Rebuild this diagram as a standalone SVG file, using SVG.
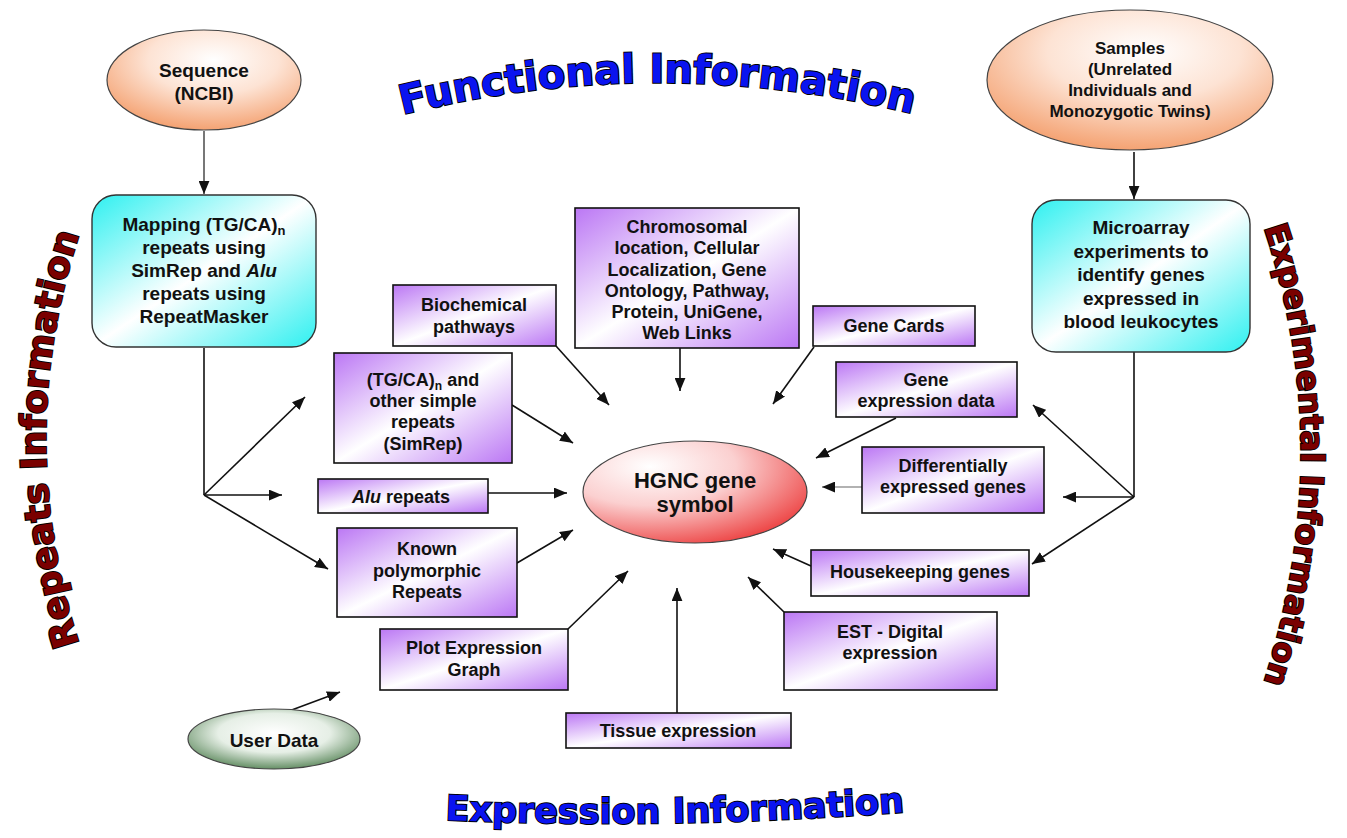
<svg xmlns="http://www.w3.org/2000/svg" width="1347" height="838" viewBox="0 0 1347 838">
<style>
.t{font-family:"Liberation Sans",Arial,sans-serif;font-weight:bold;font-size:18px;fill:#111;text-anchor:middle}
.big{font-size:19px}
.box{fill:url(#purp);stroke:#111;stroke-width:1.6}
.cbox{fill:url(#cyan);stroke:#333;stroke-width:1.4}
.ell{stroke:#444;stroke-width:1.2}
.c{stroke:#111;stroke-width:1.6;fill:none}
.ca{stroke:#111;stroke-width:1.6;fill:none;marker-end:url(#ah)}
.title{font-family:"DejaVu Sans","Liberation Sans",sans-serif;font-weight:bold;stroke:#000;stroke-width:2;paint-order:stroke}
.blue{fill:#0a14f0}
.red{fill:#7a0000}
</style>
<defs>
<linearGradient id="purp" x1="0" y1="0" x2="1" y2="1">
<stop offset="0" stop-color="#bb77f4"/><stop offset="0.5" stop-color="#ffffff"/><stop offset="1" stop-color="#bb77f4"/>
</linearGradient>
<linearGradient id="cyan" x1="0" y1="0" x2="1" y2="1">
<stop offset="0" stop-color="#2ef0f0"/><stop offset="0.5" stop-color="#ffffff"/><stop offset="1" stop-color="#2ef0f0"/>
</linearGradient>
<radialGradient id="orange" cx="0.55" cy="0.3" r="0.75">
<stop offset="0" stop-color="#ffffff"/><stop offset="0.45" stop-color="#fde3d4"/><stop offset="1" stop-color="#f39a66"/>
</radialGradient>
<radialGradient id="red" cx="0.3" cy="0.25" r="0.85">
<stop offset="0" stop-color="#ffffff"/><stop offset="0.45" stop-color="#fbd0d0"/><stop offset="1" stop-color="#ec3c3c"/>
</radialGradient>
<radialGradient id="green" cx="0.5" cy="0.4" r="0.65">
<stop offset="0" stop-color="#ffffff"/><stop offset="0.5" stop-color="#e6efe6"/><stop offset="1" stop-color="#4e7e4e"/>
</radialGradient>
<marker id="ah" viewBox="0 0 12 10" refX="12" refY="5" markerWidth="13" markerHeight="11" markerUnits="userSpaceOnUse" orient="auto">
<path d="M0,0 L12,5 L0,10 z" fill="#111"/>
</marker>
<path id="pFunc" d="M 405 114 Q 655 52 910 113"/>
<path id="pExpr" d="M 445 820 Q 675 830 905 812"/>
<path id="pRep" d="M 82 652 Q 10 440 82 226"/>
<path id="pExp" d="M 1262 222 Q 1340 450 1262 688"/>
</defs>
<rect width="1347" height="838" fill="#ffffff"/>

<g id="titles">
<text class="title blue" font-size="40"><textPath href="#pFunc" startOffset="50%" text-anchor="middle">Functional Information</textPath></text>
<text class="title blue" font-size="35"><textPath href="#pExpr" startOffset="50%" text-anchor="middle">Expression Information</textPath></text>
<text class="title red" font-size="36"><textPath href="#pRep" startOffset="50%" text-anchor="middle">Repeats Information</textPath></text>
<text class="title red" font-size="32"><textPath href="#pExp" startOffset="50%" text-anchor="middle">Experimental Information</textPath></text>
</g>

<g id="connectors">
<line class="ca" x1="204" y1="131" x2="204" y2="194" style="stroke:#555"/>
<line class="ca" x1="1134" y1="152" x2="1134" y2="199"/>
<line class="c" x1="204" y1="348" x2="204" y2="495"/>
<line class="ca" x1="204" y1="495" x2="305" y2="397"/>
<line class="ca" x1="204" y1="495" x2="282" y2="495"/>
<line class="ca" x1="204" y1="495" x2="328" y2="569"/>
<line class="c" x1="1134" y1="352" x2="1134" y2="497"/>
<line class="ca" x1="1134" y1="497" x2="1033" y2="405"/>
<line class="ca" x1="1134" y1="497" x2="1063" y2="497"/>
<line class="ca" x1="1134" y1="497" x2="1032" y2="564"/>
<line class="ca" x1="556" y1="346" x2="609" y2="405"/>
<line class="ca" x1="680" y1="348" x2="680" y2="391"/>
<line class="ca" x1="814" y1="347" x2="773" y2="404"/>
<line class="ca" x1="512" y1="405" x2="573" y2="443"/>
<line class="ca" x1="896" y1="418" x2="816" y2="458"/>
<line class="ca" x1="488" y1="493" x2="567" y2="493"/>
<line class="ca" x1="862" y1="487" x2="822" y2="487" style="stroke:#999"/>
<line class="ca" x1="517" y1="563" x2="573" y2="530"/>
<line class="ca" x1="811" y1="566" x2="773" y2="549"/>
<line class="ca" x1="784" y1="612" x2="748" y2="577"/>
<line class="ca" x1="568" y1="629" x2="628" y2="571"/>
<line class="ca" x1="677" y1="713" x2="677" y2="588"/>
<line class="ca" x1="289" y1="711" x2="340" y2="692"/>
</g>

<g id="sequence">
<ellipse class="ell" cx="204" cy="80" rx="97" ry="50" fill="url(#orange)"/>
<text class="t big" x="204" y="77">Sequence</text>
<text class="t big" x="204" y="100">(NCBI)</text>
</g>

<g id="mapping">
<rect class="cbox" x="92" y="195" width="224" height="152" rx="24"/>
<text class="t big" x="204" y="231">Mapping (TG/CA)<tspan font-size="13" dy="4">n</tspan></text>
<text class="t big" x="204" y="254">repeats using</text>
<text class="t big" x="204" y="277">SimRep and <tspan font-style="italic">Alu</tspan></text>
<text class="t big" x="204" y="300">repeats using</text>
<text class="t big" x="204" y="323">RepeatMasker</text>
</g>

<g id="samples">
<ellipse class="ell" cx="1130" cy="80" rx="143" ry="70" fill="url(#orange)"/>
<text class="t" x="1130" y="54" style="font-size:17px">Samples</text>
<text class="t" x="1130" y="75" style="font-size:17px">(Unrelated</text>
<text class="t" x="1130" y="96" style="font-size:17px">Individuals and</text>
<text class="t" x="1130" y="117" style="font-size:17px">Monozygotic Twins)</text>
</g>

<g id="microarray">
<rect class="cbox" x="1032" y="200" width="218" height="152" rx="24"/>
<text class="t big" x="1141" y="234">Microarray</text>
<text class="t big" x="1141" y="258">experiments to</text>
<text class="t big" x="1141" y="281">identify genes</text>
<text class="t big" x="1141" y="305">expressed in</text>
<text class="t big" x="1141" y="328">blood leukocytes</text>
</g>

<g id="biochemical">
<rect class="box" x="393" y="285" width="163" height="61"/>
<text class="t" x="474" y="311">Biochemical</text>
<text class="t" x="474" y="333">pathways</text>
</g>

<g id="chromosomal">
<rect class="box" x="575" y="208" width="224" height="140"/>
<text class="t" x="687" y="233">Chromosomal</text>
<text class="t" x="687" y="254">location, Cellular</text>
<text class="t" x="687" y="276">Localization, Gene</text>
<text class="t" x="687" y="297">Ontology, Pathway,</text>
<text class="t" x="687" y="318">Protein, UniGene,</text>
<text class="t" x="687" y="339">Web Links</text>
</g>

<g id="genecards">
<rect class="box" x="813" y="306" width="162" height="40"/>
<text class="t" x="894" y="332">Gene Cards</text>
</g>

<g id="tgca">
<rect class="box" x="334" y="353" width="178" height="110"/>
<text class="t" x="423" y="386">(TG/CA)<tspan font-size="12" dy="4">n</tspan><tspan dy="-4"> and</tspan></text>
<text class="t" x="423" y="407">other simple</text>
<text class="t" x="423" y="428">repeats</text>
<text class="t" x="423" y="450">(SimRep)</text>
</g>

<g id="geneexpr">
<rect class="box" x="836" y="362" width="181" height="55"/>
<text class="t" x="926" y="386">Gene</text>
<text class="t" x="926" y="407">expression data</text>
</g>

<g id="alu">
<rect class="box" x="318" y="479" width="170" height="34"/>
<text class="t" x="401" y="503"><tspan font-style="italic">Alu</tspan> repeats</text>
</g>

<g id="hgnc">
<ellipse class="ell" cx="695" cy="492" rx="112" ry="51" fill="url(#red)"/>
<text class="t" x="695" y="488" style="font-size:22px">HGNC gene</text>
<text class="t" x="695" y="512" style="font-size:22px">symbol</text>
</g>

<g id="differential">
<rect class="box" x="862" y="447" width="182" height="66"/>
<text class="t" x="953" y="472">Differentially</text>
<text class="t" x="953" y="493">expressed genes</text>
</g>

<g id="known">
<rect class="box" x="337" y="528" width="180" height="89"/>
<text class="t" x="427" y="555">Known</text>
<text class="t" x="427" y="577">polymorphic</text>
<text class="t" x="427" y="598">Repeats</text>
</g>

<g id="housekeeping">
<rect class="box" x="811" y="550" width="218" height="46"/>
<text class="t" x="920" y="578">Housekeeping genes</text>
</g>

<g id="est">
<rect class="box" x="784" y="612" width="213" height="78"/>
<text class="t" x="890" y="638">EST - Digital</text>
<text class="t" x="890" y="659">expression</text>
</g>

<g id="plot">
<rect class="box" x="380" y="629" width="188" height="61"/>
<text class="t" x="474" y="654">Plot Expression</text>
<text class="t" x="474" y="676">Graph</text>
</g>

<g id="tissue">
<rect class="box" x="566" y="713" width="225" height="35"/>
<text class="t" x="678" y="737">Tissue expression</text>
</g>

<g id="userdata">
<ellipse class="ell" cx="274" cy="739" rx="86" ry="30" fill="url(#green)"/>
<text class="t big" x="274" y="747">User Data</text>
</g>
</svg>
